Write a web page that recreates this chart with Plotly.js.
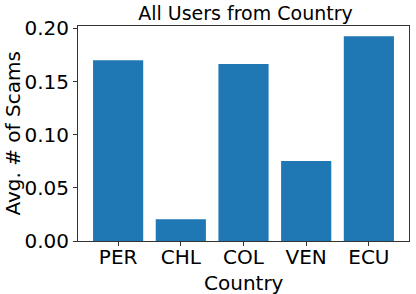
<!DOCTYPE html>
<html><head><meta charset="utf-8">
<script src="https://cdn.plot.ly/plotly-3.0.1.min.js"></script>
<style>html,body{margin:0;padding:0;background:#fff}#c{width:416px;height:294px}</style>
</head><body><div id="c"></div>
<script>
const countries = ["PER", "CHL", "COL", "VEN", "ECU"];
const avgScams = [0.170, 0.0205, 0.1665, 0.0753, 0.1926];
const yTicks = [0, 0.05, 0.10, 0.15, 0.20];
const yTickLabels = ["0.00", "0.05", "0.10", "0.15", "0.20"];

const font = "DejaVu Sans, sans-serif";
Plotly.newPlot("c", [{
  type: "bar",
  x: countries.map((_, i) => i),
  y: avgScams,
  width: 0.8,
  marker: {color: "#1f77b4"},
  hoverinfo: "none"
}], {
  width: 416, height: 294,
  margin: {l: 78, r: 7, t: 26, b: 53},
  paper_bgcolor: "#fff", plot_bgcolor: "#fff",
  showlegend: false,
  title: {text: "All Users from Country", font: {family: font, size: 19, color: "#000"}, x: 0.59, xanchor: "center", y: 0.955, yanchor: "middle"},
  xaxis: {
    range: [-0.64, 4.64],
    tickmode: "array", tickvals: countries.map((_, i) => i), ticktext: countries,
    ticks: "outside", ticklen: 4, tickwidth: 1, tickcolor: "#333",
    ticklabelstandoff: -6,
    showline: true, linecolor: "#333", linewidth: 1, mirror: true,
    showgrid: false, zeroline: false,
    tickfont: {family: font, size: 20, color: "#000"}
  },
  yaxis: {
    range: [0, 0.2022],
    tickmode: "array", tickvals: yTicks, ticktext: yTickLabels,
    ticks: "outside", ticklen: 4, tickwidth: 1, tickcolor: "#333",
    showline: true, linecolor: "#333", linewidth: 1, mirror: true,
    showgrid: false, zeroline: false,
    tickfont: {family: font, size: 20, color: "#000"}
  },
  annotations: [
    {text: "Country", xref: "paper", yref: "paper", x: 0.5, y: 0, xanchor: "center", yanchor: "top",
     yshift: -28, showarrow: false, font: {family: font, size: 20, color: "#000"}},
    {text: "Avg. # of Scams", xref: "paper", yref: "paper", x: 0, y: 0.5, xanchor: "center", yanchor: "middle",
     xshift: -66, textangle: -90, showarrow: false, font: {family: font, size: 20, color: "#000"}}
  ]
}, {staticPlot: true});
</script></body></html>
